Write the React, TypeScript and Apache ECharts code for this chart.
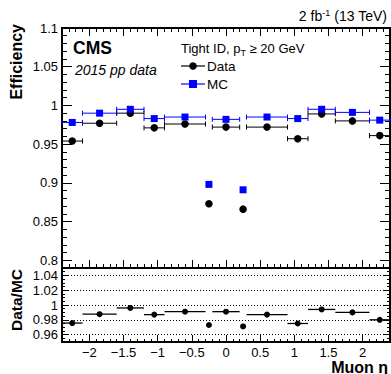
import React, { useEffect, useRef } from "react";
import * as echarts from "echarts";

// ---- data ----
const binLow = [-2.4, -2.1, -1.6, -1.2, -0.9, -0.3, -0.2, 0.2, 0.3, 0.9, 1.2, 1.6, 2.1];
const binHigh = [-2.1, -1.6, -1.2, -0.9, -0.3, -0.2, 0.2, 0.3, 0.9, 1.2, 1.6, 2.1, 2.4];
const dataEff = [0.954, 0.977, 0.99, 0.971, 0.976, 0.873, 0.972, 0.866, 0.972, 0.957, 0.989, 0.98, 0.961];
const mcEff = [0.978, 0.99, 0.995, 0.983, 0.985, 0.898, 0.982, 0.891, 0.985, 0.983, 0.995, 0.991, 0.981];
const ratio = [0.9756, 0.9876, 0.996, 0.987, 0.991, 0.973, 0.991, 0.971, 0.987, 0.975, 0.994, 0.99, 0.98];

// ---- ticks ----
const xMajorTicks = [-2, -1.5, -1, -0.5, 0, 0.5, 1, 1.5, 2];
const effMajorTicks = [0.8, 0.85, 0.9, 0.95, 1, 1.05, 1.1];
const ratioMajorTicks = [0.96, 0.98, 1, 1.02, 1.04];

function steps(a: number, b: number, s: number, d: number) {
  const out: number[] = [];
  const n = Math.round((b - a) / s);
  for (let i = 0; i <= n; i++) out.push(+(a + i * s).toFixed(d));
  return out;
}
const xMinorTicks = steps(-2.4, 2.4, 0.1, 1);
const effMinorTicks = steps(0.79, 1.1, 0.01, 2);
const ratioMinorTicks = steps(0.95, 1.05, 0.005, 3);

const FONT = "'Liberation Sans', Arial, Helvetica, sans-serif";

function xAx(gridIndex: number, position: string, ticks: number[], len: number, labels: boolean) {
  return {
    type: "value",
    gridIndex,
    position,
    min: -2.4,
    max: 2.4,
    axisLine: { show: false, onZero: false },
    splitLine: { show: false },
    axisTick: { show: true, inside: true, length: len, customValues: ticks, lineStyle: { color: "#000", width: 1 } },
    axisLabel: labels
      ? {
          show: true,
          customValues: ticks,
          fontSize: 13,
          color: "#000",
          fontFamily: FONT,
          margin: 4,
          formatter: (v: number) => (v < 0 ? "\u2212" : "") + String(Math.abs(v)),
        }
      : { show: false },
  };
}

function yAx(gridIndex: number, position: string, min: number, max: number, ticks: number[], len: number, labels: boolean) {
  return {
    type: "value",
    gridIndex,
    position,
    min,
    max,
    axisLine: { show: false, onZero: false },
    splitLine: { show: false },
    axisTick: { show: true, inside: true, length: len, customValues: ticks, lineStyle: { color: "#000", width: 1 } },
    axisLabel: labels
      ? {
          show: true,
          customValues: ticks,
          fontSize: 13,
          color: "#000",
          fontFamily: FONT,
          margin: 4,
          formatter: (v: number) => String(+v.toFixed(3)),
        }
      : { show: false },
  };
}

function errBarSeries(name: string, xi: number, yi: number, vals: number[], color: string, cap: number, width: number) {
  return {
    name,
    type: "custom",
    xAxisIndex: xi,
    yAxisIndex: yi,
    z: 2,
    silent: true,
    data: binLow.map((l, i) => [l, binHigh[i], vals[i]]),
    encode: { x: [0, 1], y: 2 },
    renderItem: (params: any, api: any) => {
      const a = api.coord([api.value(0), api.value(2)]);
      const b = api.coord([api.value(1), api.value(2)]);
      if (b[0] - a[0] < 8) return { type: "group", children: [] };
      const st = { stroke: color, lineWidth: width };
      const children: any[] = [
        { type: "line", shape: { x1: a[0], y1: a[1], x2: b[0], y2: b[1] }, style: st },
      ];
      if (cap > 0) {
        children.push({ type: "line", shape: { x1: a[0], y1: a[1] - cap, x2: a[0], y2: a[1] + cap }, style: st });
        children.push({ type: "line", shape: { x1: b[0], y1: b[1] - cap, x2: b[0], y2: b[1] + cap }, style: st });
      }
      return { type: "group", children };
    },
  };
}

function markerSeries(name: string, xi: number, yi: number, vals: number[], symbol: string, size: number, color: string) {
  return {
    name,
    type: "scatter",
    xAxisIndex: xi,
    yAxisIndex: yi,
    z: 3,
    symbol,
    symbolSize: size,
    itemStyle: { color, opacity: 1 },
    data: binLow.map((l, i) => [(l + binHigh[i]) / 2, vals[i]]),
  };
}

export default function App() {
  const ref = useRef<HTMLDivElement>(null);
  useEffect(() => {
    if (!ref.current) return;
    const chart = echarts.init(ref.current, null, { renderer: "svg" });
    const option: any = {
      animation: false,
      textStyle: { fontFamily: FONT },
      grid: [
        { left: 62, top: 28, width: 328, height: 240, show: true, borderColor: "#000", borderWidth: 2, backgroundColor: "transparent" },
        { left: 62, top: 268, width: 328, height: 74, show: true, borderColor: "#000", borderWidth: 2, backgroundColor: "transparent" },
      ],
      xAxis: [
        xAx(0, "bottom", xMajorTicks, 8, false),
        xAx(0, "bottom", xMinorTicks, 4, false),
        xAx(0, "top", xMajorTicks, 8, false),
        xAx(0, "top", xMinorTicks, 4, false),
        xAx(1, "bottom", xMajorTicks, 7, true),
        xAx(1, "bottom", xMinorTicks, 3, false),
      ],
      yAxis: [
        yAx(0, "left", 0.79, 1.1, effMajorTicks, 10, true),
        yAx(0, "left", 0.79, 1.1, effMinorTicks, 5, false),
        yAx(0, "right", 0.79, 1.1, effMajorTicks, 10, false),
        yAx(0, "right", 0.79, 1.1, effMinorTicks, 5, false),
        yAx(1, "left", 0.95, 1.05, ratioMajorTicks, 7, true),
        yAx(1, "left", 0.95, 1.05, ratioMinorTicks, 3, false),
        yAx(1, "right", 0.95, 1.05, ratioMajorTicks, 7, false),
        yAx(1, "right", 0.95, 1.05, ratioMinorTicks, 3, false),
      ],
      series: [
        errBarSeries("DataErr", 0, 0, dataEff, "#000", 2.5, 1),
        markerSeries("Data", 0, 0, dataEff, "circle", 7.5, "#000"),
        errBarSeries("MCErr", 0, 0, mcEff, "#0000ff", 2.5, 1),
        markerSeries("MC", 0, 0, mcEff, "rect", 7, "#0000ff"),
        errBarSeries("RatioErr", 4, 4, ratio, "#000", 0, 1.3),
        {
          ...markerSeries("Ratio", 4, 4, ratio, "circle", 6, "#000"),
          markLine: {
            silent: true,
            symbol: ["none", "none"],
            label: { show: false },
            lineStyle: { color: "#000", type: [1, 2], width: 1 },
            data: ratioMajorTicks.map((v) => ({ yAxis: v })),
          },
        },
      ],
      graphic: [
        {
          type: "text",
          x: 387,
          y: 16,
          style: {
            text: "2 fb{sup|-1} (13 TeV)",
            align: "right",
            verticalAlign: "middle",
            font: `14px ${FONT}`,
            fill: "#000",
            rich: { sup: { fontSize: 9, verticalAlign: "top", padding: [0, 0, 6, 0], fontFamily: FONT } },
          },
        },
        {
          type: "text",
          x: 73,
          y: 48,
          style: { text: "CMS", verticalAlign: "middle", font: `bold 17.5px ${FONT}`, fill: "#000" },
        },
        {
          type: "text",
          x: 75,
          y: 70,
          style: { text: "2015 pp data", verticalAlign: "middle", font: `italic 14px ${FONT}`, fill: "#000" },
        },
        {
          type: "text",
          x: 181,
          y: 48,
          style: {
            text: "Tight ID, p{sub|T} \u2265 20 GeV",
            verticalAlign: "middle",
            font: `13px ${FONT}`,
            fill: "#000",
            rich: { sub: { fontSize: 9, verticalAlign: "bottom", padding: [9, 0, 0, 0], fontFamily: FONT } },
          },
        },
        { type: "line", shape: { x1: 181, y1: 66, x2: 205, y2: 66 }, style: { stroke: "#000", lineWidth: 1.2 } },
        { type: "circle", shape: { cx: 193, cy: 66, r: 3.8 }, style: { fill: "#000" } },
        { type: "text", x: 207, y: 66, style: { text: "Data", verticalAlign: "middle", font: `13.5px ${FONT}`, fill: "#000" } },
        { type: "line", shape: { x1: 181, y1: 84, x2: 205, y2: 84 }, style: { stroke: "#0000ff", lineWidth: 1.2 } },
        { type: "rect", shape: { x: 189, y: 80, width: 8, height: 8 }, style: { fill: "#0000ff" } },
        { type: "text", x: 207, y: 84, style: { text: "MC", verticalAlign: "middle", font: `13.5px ${FONT}`, fill: "#000" } },
        {
          type: "text",
          x: 16,
          y: 24,
          rotation: Math.PI / 2,
          style: { text: "Efficiency", align: "right", verticalAlign: "middle", font: `bold 16px ${FONT}`, fill: "#000" },
        },
        {
          type: "text",
          x: 16,
          y: 269,
          rotation: Math.PI / 2,
          style: { text: "Data/MC", align: "right", verticalAlign: "middle", font: `bold 15.5px ${FONT}`, fill: "#000" },
        },
        {
          type: "text",
          x: 388,
          y: 367,
          style: { text: "Muon \u03b7", align: "right", verticalAlign: "middle", font: `bold 16px ${FONT}`, fill: "#000" },
        },
      ],
    };
    chart.setOption(option);
    return () => chart.dispose();
  }, []);
  return (
    <div
      ref={ref}
      style={{ position: "fixed", left: 0, top: 0, width: 391, height: 374, background: "#fff" }}
    />
  );
}
